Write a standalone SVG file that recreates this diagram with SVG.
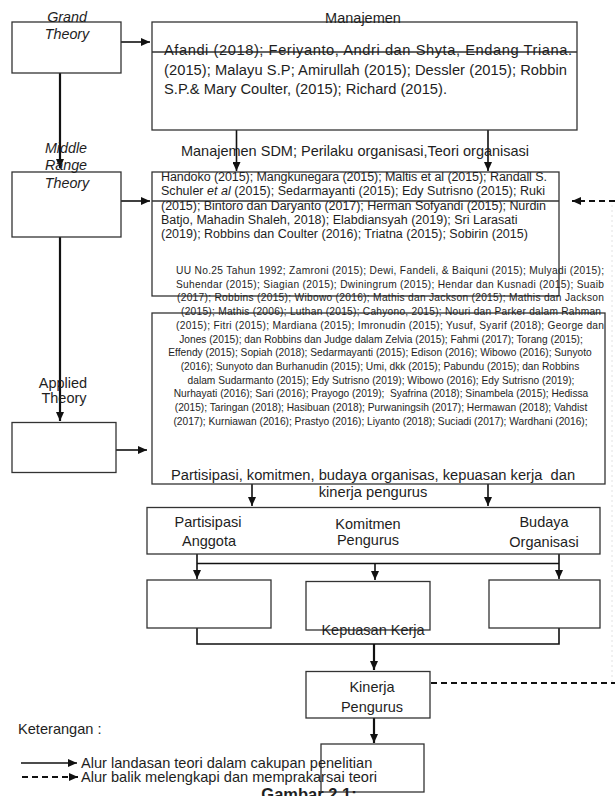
<svg xmlns="http://www.w3.org/2000/svg" width="615" height="796" viewBox="0 0 615 796">
<defs>
<marker id="ah" markerUnits="userSpaceOnUse" markerWidth="9" markerHeight="8" refX="9" refY="4" orient="auto">
<path d="M0,0 L9,4 L0,8 z" fill="#111"/>
</marker>
<style>
.box{fill:none;stroke:#333;stroke-width:1.3}
.t{font-family:"Liberation Sans",Arial,sans-serif;fill:#1e1e1e}
.it{font-style:italic}
.c{text-anchor:middle}
.conn{fill:none;stroke:#111;stroke-width:1.6}
.thick{fill:none;stroke:#111;stroke-width:2.2}
.dash{fill:none;stroke:#111;stroke-width:1.8;stroke-dasharray:6 4}
</style>
</defs>
<rect width="615" height="796" fill="#fff"/>

<g id="connectors">
<path class="thick" d="M60,73 V168" marker-end="url(#ah)"/>
<path class="thick" d="M60,237 V421" marker-end="url(#ah)"/>
<path class="conn" d="M121,42 H150" marker-end="url(#ah)"/>
<path class="conn" d="M121,201 H150" marker-end="url(#ah)"/>
<path class="conn" d="M116,450 H147" marker-end="url(#ah)"/>
<path class="conn" d="M236.5,130 V171" marker-end="url(#ah)"/>
<path class="conn" d="M488,130 V171" marker-end="url(#ah)"/>
<path class="conn" d="M252,484 V506" marker-end="url(#ah)"/>
<path class="conn" d="M488,484 V506" marker-end="url(#ah)"/>
<path class="conn" d="M197,554 V579" marker-end="url(#ah)"/>
<path class="conn" d="M559,554 V579" marker-end="url(#ah)"/>
<path class="conn" d="M197,563.5 H559"/>
<path class="conn" d="M375,563.5 V580" marker-end="url(#ah)"/>
<path class="conn" d="M197,628 V644 H559 V628"/>
<path class="thick" d="M374,644 V670" marker-end="url(#ah)"/>
<path class="thick" d="M374,718 V743" marker-end="url(#ah)"/>
<path class="dash" d="M431,683 H615"/>
<path class="dash" d="M615,201 H572" marker-end="url(#ah)"/>
<path d="M612,205 V683" fill="none" stroke="#e2e2e2" stroke-width="1" stroke-dasharray="2 3"/>
</g>

<g id="grand-theory">
<rect class="box" x="12" y="22" width="109" height="51"/>
<text class="t it c" x="67" y="22" font-size="14.3">Grand</text>
<text class="t it c" x="67" y="39" font-size="14.3">Theory</text>
</g>

<g id="manajemen">
<rect class="box" x="152" y="22" width="425" height="108"/>
<line x1="152" y1="52" x2="577" y2="52" stroke="#333" stroke-width="1.3"/>
<text class="t c" x="363" y="23" font-size="14.5">Manajemen</text>
<text class="t" x="164" y="55" font-size="14.7" textLength="408" lengthAdjust="spacing">Afandi (2018); Feriyanto, Andri dan Shyta, Endang Triana.</text>
<text class="t" x="164" y="74.5" font-size="14.7" textLength="403" lengthAdjust="spacing">(2015); Malayu S.P; Amirullah (2015); Dessler (2015); Robbin</text>
<text class="t" x="164" y="93.5" font-size="14.7">S.P.&amp; Mary Coulter, (2015); Richard (2015).</text>
</g>

<g id="label-msdm">
<text class="t c" x="355" y="156" font-size="14.5">Manajemen SDM; Perilaku organisasi,Teori organisasi</text>
</g>

<g id="middle-range-theory">
<rect class="box" x="12" y="172" width="109" height="65"/>
<text class="t it c" x="66" y="153" font-size="14.3">Middle</text>
<text class="t it c" x="66" y="170" font-size="14.3">Range</text>
<text class="t it c" x="67" y="188" font-size="14.3">Theory</text>
</g>

<g id="sdm-references">
<rect class="box" x="152" y="172" width="407" height="124"/>
<line x1="152" y1="201" x2="559" y2="201" stroke="#333" stroke-width="1.3"/>
<text class="t" x="161" y="181" font-size="12.5" textLength="386" lengthAdjust="spacing">Handoko (2015); Mangkunegara (2015); Maltis et al (2015); Randall S.</text>
<text class="t" x="161" y="195" font-size="12.5" textLength="384" lengthAdjust="spacing">Schuler <tspan class="it">et al</tspan> (2015); Sedarmayanti (2015); Edy Sutrisno (2015); Ruki</text>
<text class="t" x="161" y="209.5" font-size="12.5" textLength="385" lengthAdjust="spacing">(2015); Bintoro dan Daryanto (2017); Herman Sofyandi (2015); Nurdin</text>
<text class="t" x="161" y="223.5" font-size="12.5">Batjo, Mahadin Shaleh, 2018); Elabdiansyah (2019); Sri Larasati</text>
<text class="t" x="161" y="237.5" font-size="12.5">(2019); Robbins dan Coulter (2016); Triatna (2015); Sobirin (2015)</text>
</g>

<g id="applied-theory">
<rect class="box" x="12" y="422.5" width="104" height="50"/>
<text class="t c" x="63" y="388" font-size="14.5">Applied</text>
<text class="t c" x="64" y="403" font-size="14.5">Theory</text>
</g>

<g id="variable-references">
<rect class="box" x="152" y="313" width="453" height="171"/>
<g font-size="10.2">
<text class="t" x="176" y="274" textLength="428" lengthAdjust="spacing">UU No.25 Tahun 1992; Zamroni (2015); Dewi, Fandeli, &amp; Baiquni (2015); Mulyadi (2015);</text>
<text class="t" x="176" y="287.7" textLength="428" lengthAdjust="spacing">Suhendar (2015); Siagian (2015); Dwiningrum (2015); Hendar dan Kusnadi (2015); Suaib</text>
<text class="t" x="177" y="301.4" textLength="427" lengthAdjust="spacing">(2017); Robbins (2015); Wibowo (2016); Mathis dan Jackson (2015); Mathis dan Jackson</text>
<text class="t" x="181" y="315.1" textLength="420" lengthAdjust="spacing">(2015); Mathis (2006); Luthan (2015); Cahyono, 2015); Nouri dan Parker dalam Rahman</text>
<text class="t" x="176" y="328.8" textLength="428" lengthAdjust="spacing">(2015); Fitri (2015); Mardiana (2015); Imronudin (2015); Yusuf, Syarif (2018); George dan</text>
<text class="t c" x="381" y="342.5">Jones (2015); dan Robbins dan Judge dalam Zelvia (2015); Fahmi (2017); Torang (2015);</text>
<text class="t c" x="380" y="356.2">Effendy (2015); Sopiah (2018); Sedarmayanti (2015); Edison (2016); Wibowo (2016); Sunyoto</text>
<text class="t c" x="380" y="369.9">(2016); Sunyoto dan Burhanudin (2015); Umi, dkk (2015); Pabundu (2015); dan Robbins</text>
<text class="t c" x="381" y="383.6">dalam Sudarmanto (2015); Edy Sutrisno (2019); Wibowo (2016); Edy Sutrisno (2019);</text>
<text class="t c" x="381" y="397.3" xml:space="preserve">Nurhayati (2016); Sari (2016); Prayogo (2019);  Syafrina (2018); Sinambela (2015); Hedissa</text>
<text class="t c" x="381" y="411">(2015); Taringan (2018); Hasibuan (2018); Purwaningsih (2017); Hermawan (2018); Vahdist</text>
<text class="t c" x="380.5" y="424.7">(2017); Kurniawan (2016); Prastyo (2016); Liyanto (2018); Suciadi (2017); Wardhani (2016);</text>
</g>
<text class="t c" x="373" y="480" font-size="14.7" xml:space="preserve">Partisipasi, komitmen, budaya organisas, kepuasan kerja  dan</text>
<text class="t c" x="373" y="497" font-size="14.7">kinerja pengurus</text>
</g>

<g id="variables">
<rect class="box" x="147" y="507.5" width="453" height="46.5"/>
<text class="t c" x="208" y="527" font-size="14.5">Partisipasi</text>
<text class="t c" x="209" y="546" font-size="14.5">Anggota</text>
<text class="t c" x="368" y="529" font-size="14.5">Komitmen</text>
<text class="t c" x="368" y="544.5" font-size="14.5">Pengurus</text>
<text class="t c" x="544" y="526.5" font-size="14.5">Budaya</text>
<text class="t c" x="544" y="547" font-size="14.5">Organisasi</text>
</g>

<g id="box-a">
<rect class="box" x="147" y="580" width="124" height="48"/>
</g>
<g id="box-b">
<rect class="box" x="306" y="581.5" width="124" height="48.5"/>
<text class="t c" x="373" y="634.5" font-size="14.5">Kepuasan Kerja</text>
</g>
<g id="box-c">
<rect class="box" x="489" y="580" width="111" height="48"/>
</g>

<g id="kinerja-pengurus">
<rect class="box" x="306" y="671.5" width="124" height="46.5"/>
<text class="t c" x="372" y="691.5" font-size="14.5">Kinerja</text>
<text class="t c" x="372" y="711.5" font-size="14.5">Pengurus</text>
</g>

<g id="bottom-box">
<rect class="box" x="321" y="744" width="103" height="48"/>
</g>

<g id="legend">
<text class="t" x="18" y="734" font-size="14.6">Keterangan :</text>
<path d="M21,763 H77" fill="none" stroke="#111" stroke-width="1.5" marker-end="url(#ah)"/>
<text class="t" x="81" y="767.5" font-size="14.6">Alur landasan teori dalam cakupan penelitian</text>
<path d="M22,777 H78" fill="none" stroke="#111" stroke-width="1.8" stroke-dasharray="6 4" marker-end="url(#ah)"/>
<text class="t" x="81" y="782" font-size="14.6">Alur balik melengkapi dan memprakarsai teori</text>
<text class="t c" x="309" y="800" font-size="16.5" font-weight="bold">Gambar 2.1:</text>
</g>
</svg>
